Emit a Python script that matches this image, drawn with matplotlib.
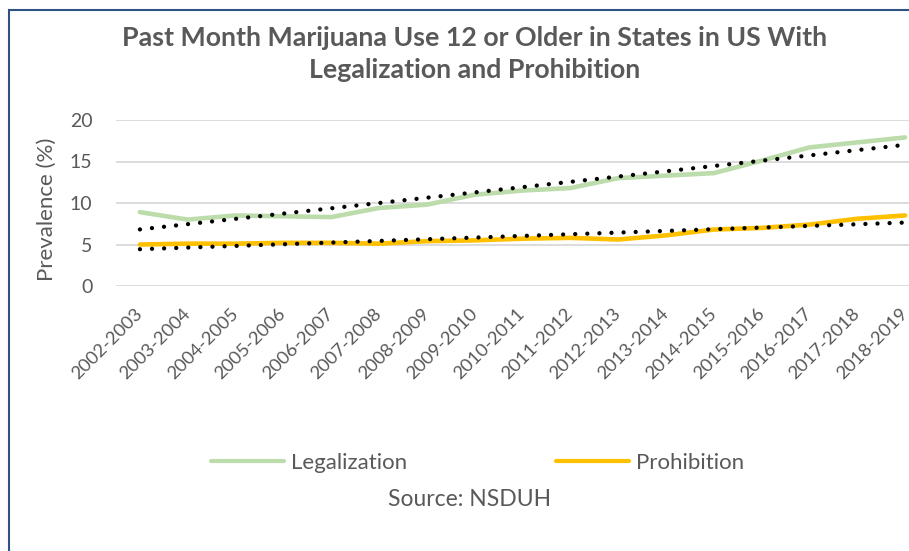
import matplotlib
matplotlib.use("Agg")
import matplotlib.pyplot as plt
import matplotlib.transforms as mtransforms
import numpy as np
from matplotlib.lines import Line2D

plt.rcParams["font.family"] = ["Lato", "DejaVu Sans"]

periods = [
    "2002-2003", "2003-2004", "2004-2005", "2005-2006", "2006-2007",
    "2007-2008", "2008-2009", "2009-2010", "2010-2011", "2011-2012",
    "2012-2013", "2013-2014", "2014-2015", "2015-2016", "2016-2017",
    "2017-2018", "2018-2019",
]
legalization = [8.9, 8.0, 8.5, 8.4, 8.3, 9.4, 9.8, 11.0, 11.5, 11.8,
                13.0, 13.3, 13.6, 15.1, 16.7, 17.3, 17.9]
prohibition = [5.0, 5.1, 5.1, 5.2, 5.2, 5.1, 5.4, 5.5, 5.7, 5.8,
               5.6, 6.1, 6.8, 7.0, 7.4, 8.1, 8.5]

text_grey = "#595959"
green = "#bcdcab"
orange = "#ffc000"

fig = plt.figure(figsize=(9.09, 5.51), dpi=100)
ax = fig.add_axes([116 / 909, 1 - 286 / 551, 813 / 909, 166 / 551])

x = np.arange(len(periods))
ax.plot(x, legalization, color=green, lw=3.3, solid_capstyle="round",
        label="Legalization", zorder=3)
ax.plot(x, prohibition, color=orange, lw=3.3, solid_capstyle="round",
        label="Prohibition", zorder=3)

# linear trend lines, dotted
for series in (legalization, prohibition):
    slope, icpt = np.polyfit(x, series, 1)
    ax.plot(x, slope * x + icpt, color="black", lw=3.1,
            linestyle=(0, (0.01, 2.8)), dash_capstyle="round", zorder=4)

ax.set_xlim(-0.5, len(periods) - 0.5)
ax.set_ylim(0, 20)
ax.set_yticks([0, 5, 10, 15, 20])
ax.set_xticks(x)
ax.set_xticklabels(periods, rotation=45, ha="right", va="center",
                   rotation_mode="anchor", fontsize=13.3, color=text_grey)
# pull the slanted labels a little to the left so the last one fits
nudge = mtransforms.ScaledTranslation(-10 / 100, 0, fig.dpi_scale_trans)
for lbl in ax.get_xticklabels():
    lbl.set_transform(lbl.get_transform() + nudge)
ax.tick_params(axis="y", labelsize=14, labelcolor=text_grey, length=0, pad=17)
ax.tick_params(axis="x", length=0, pad=18)
ax.grid(axis="y", color="#d9d9d9", lw=1.3)
ax.set_axisbelow(True)
for side in ax.spines.values():
    side.set_visible(False)
ax.set_ylabel("Prevalence (%)", fontsize=16, color=text_grey)
ax.yaxis.set_label_coords(-0.073, 0.46)

fig.text(0.5226, 1 - 54 / 551,
         "Past Month Marijuana Use 12 or Older in States in US With\nLegalization and Prohibition",
         ha="center", va="center", fontsize=19.3, fontweight="bold",
         color=text_grey, linespacing=1.4)

leg = fig.legend(loc="center", bbox_to_anchor=(478 / 909, 1 - 463 / 551), ncol=2,
                 frameon=False, fontsize=16, handlelength=3.25, handletextpad=0.35,
                 columnspacing=6.7, labelcolor=text_grey)
for h in leg.legend_handles:
    h.set_linewidth(3.0)
fig.text(470 / 909, 1 - 500 / 551, "Source: NSDUH", ha="center", va="center",
         fontsize=16.5, color=text_grey)

# frame edges along the top and left
fig.add_artist(Line2D([9 / 909, 1], [1 - 10 / 551] * 2, color="#2f5380", lw=1.5))
fig.add_artist(Line2D([9 / 909] * 2, [0, 1 - 10 / 551], color="#2f5380", lw=1.5))

fig.savefig("out.png", dpi=100)
